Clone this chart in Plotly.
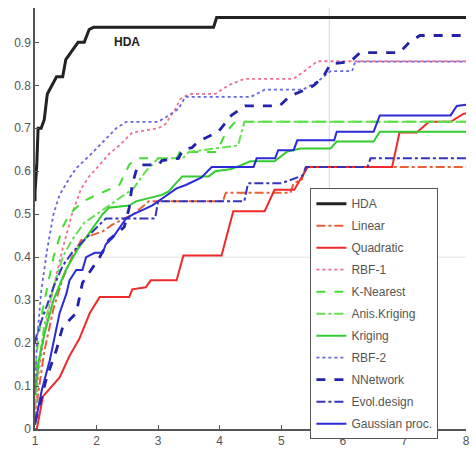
import plotly.graph_objects as go

# ---- data ----
names = ["HDA", "Linear", "Quadratic", "RBF-1", "K-Nearest", "Anis.Kriging",
         "Kriging", "RBF-2", "NNetwork", "Evol.design", "Gaussian proc."]

hda_x = [1.0, 1.0, 1.03, 1.05, 1.1, 1.15, 1.2, 1.27, 1.35, 1.45, 1.5, 1.6, 1.7, 1.8, 1.88, 1.95, 3.9, 3.95, 8]
hda_y = [0.53, 0.55, 0.62, 0.70, 0.70, 0.72, 0.78, 0.80, 0.82, 0.82, 0.86, 0.88, 0.90, 0.90, 0.93, 0.935, 0.935, 0.958, 0.958]

lin_x = [1, 1.05, 1.15, 1.3, 1.45, 1.6, 1.75, 1.9, 2.1, 2.25, 2.45, 2.6, 2.85, 4.05, 4.1, 5.15, 5.2, 5.33, 5.4, 8]
lin_y = [0.02, 0.08, 0.18, 0.28, 0.35, 0.40, 0.44, 0.45, 0.46, 0.475, 0.49, 0.50, 0.53, 0.53, 0.55, 0.55, 0.572, 0.58, 0.61, 0.61]

quad_x = [1.0, 1.03, 1.13, 1.4, 1.56, 1.72, 1.89, 2.05, 2.53, 2.58, 2.8, 2.88, 3.3, 3.41, 4.03, 4.22, 4.73, 4.89, 5.21, 5.43, 6.8, 6.92, 7.2, 7.4, 7.75, 7.95, 8]
quad_y = [0.0, 0.0, 0.076, 0.12, 0.17, 0.21, 0.27, 0.307, 0.307, 0.325, 0.33, 0.346, 0.346, 0.404, 0.404, 0.507, 0.507, 0.557, 0.557, 0.61, 0.61, 0.69, 0.69, 0.715, 0.715, 0.733, 0.735]

rbf1_x = [1, 1.05, 1.15, 1.3, 1.45, 1.6, 1.75, 1.89, 2.05, 2.2, 2.37, 2.58, 3.0, 3.12, 3.28, 3.36, 3.5, 3.93, 4.14, 4.4, 5.2, 5.43, 5.59, 8]
rbf1_y = [0.03, 0.12, 0.22, 0.33, 0.42, 0.50, 0.56, 0.59, 0.615, 0.64, 0.66, 0.69, 0.70, 0.71, 0.745, 0.768, 0.78, 0.78, 0.80, 0.815, 0.815, 0.838, 0.856, 0.856]

knn_x = [1, 1.03, 1.1, 1.2, 1.3, 1.45, 1.56, 1.78, 2.0, 2.37, 2.53, 2.64, 3.3, 3.35, 3.95, 4.1, 4.25, 8]
knn_y = [0.10, 0.18, 0.26, 0.33, 0.40, 0.47, 0.50, 0.53, 0.545, 0.568, 0.615, 0.63, 0.63, 0.645, 0.645, 0.69, 0.715, 0.715]

anis_x = [1, 1.05, 1.15, 1.3, 1.45, 1.6, 1.8, 2.0, 2.2, 2.4, 2.6, 2.8, 3.0, 3.4, 3.5, 4.3, 4.4, 8]
anis_y = [0.05, 0.14, 0.24, 0.33, 0.40, 0.44, 0.48, 0.50, 0.52, 0.54, 0.56, 0.60, 0.63, 0.63, 0.645, 0.66, 0.715, 0.715]

krig_x = [1, 1.05, 1.15, 1.3, 1.5, 1.7, 1.9, 2.1, 2.2, 2.53, 2.64, 3.06, 3.17, 3.39, 3.82, 3.93, 4.19, 4.5, 4.89, 5.1, 5.31, 5.8, 5.9, 6.5, 6.6, 8]
krig_y = [0.08, 0.15, 0.22, 0.30, 0.37, 0.42, 0.46, 0.50, 0.515, 0.52, 0.53, 0.545, 0.553, 0.588, 0.588, 0.60, 0.605, 0.623, 0.623, 0.646, 0.653, 0.653, 0.669, 0.669, 0.692, 0.692]

rbf2_x = [1, 1.03, 1.1, 1.2, 1.3, 1.4, 1.56, 1.67, 1.89, 2.05, 2.2, 2.32, 2.48, 3.0, 3.17, 3.33, 3.44, 4.5, 4.6, 4.73, 5.35, 5.6, 5.8, 6.15, 6.2, 8]
rbf2_y = [0.08, 0.20, 0.32, 0.42, 0.50, 0.545, 0.584, 0.607, 0.637, 0.66, 0.683, 0.70, 0.715, 0.715, 0.73, 0.745, 0.773, 0.773, 0.78, 0.79, 0.79, 0.81, 0.833, 0.833, 0.855, 0.855]

nn_x = [1, 1.08, 1.19, 1.35, 1.45, 1.67, 1.77, 2.05, 2.2, 2.45, 2.53, 2.58, 2.64, 2.69, 3.01, 3.06, 3.33, 3.4, 3.55, 3.65, 3.98, 4.19, 4.41, 4.97, 5.15, 5.4, 5.53, 5.69, 5.8, 6.12, 6.28, 6.92, 7.08, 7.25, 8]
nn_y = [0.015, 0.06, 0.12, 0.185, 0.238, 0.27, 0.34, 0.40, 0.44, 0.47, 0.515, 0.57, 0.60, 0.615, 0.615, 0.625, 0.63, 0.65, 0.655, 0.669, 0.692, 0.73, 0.752, 0.752, 0.776, 0.79, 0.80, 0.822, 0.85, 0.855, 0.876, 0.876, 0.90, 0.916, 0.916]

evol_x = [1, 1.03, 1.1, 1.2, 1.3, 1.45, 1.6, 1.8, 2.0, 2.15, 2.95, 3.0, 4.4, 4.46, 5.0, 5.35, 5.4, 6.4, 6.45, 8]
evol_y = [0.20, 0.22, 0.25, 0.29, 0.33, 0.38, 0.41, 0.44, 0.47, 0.49, 0.49, 0.53, 0.53, 0.572, 0.572, 0.59, 0.61, 0.61, 0.63, 0.63]

gp_x = [1, 1.03, 1.11, 1.24, 1.32, 1.4, 1.51, 1.56, 1.67, 1.77, 1.83, 1.97, 2.1, 2.15, 2.26, 2.48, 2.6, 2.9, 3.1, 3.3, 3.45, 3.7, 3.87, 4.55, 4.6, 4.9, 4.95, 5.2, 5.26, 5.86, 5.9, 6.5, 6.6, 7.75, 7.85, 8]
gp_y = [0.01, 0.03, 0.09, 0.16, 0.215, 0.27, 0.315, 0.346, 0.37, 0.37, 0.40, 0.41, 0.41, 0.43, 0.445, 0.49, 0.50, 0.52, 0.54, 0.56, 0.568, 0.585, 0.61, 0.61, 0.63, 0.63, 0.649, 0.649, 0.672, 0.672, 0.692, 0.692, 0.73, 0.73, 0.752, 0.755]

xs = [hda_x, lin_x, quad_x, rbf1_x, knn_x, anis_x, krig_x, rbf2_x, nn_x, evol_x, gp_x]
ys = [hda_y, lin_y, quad_y, rbf1_y, knn_y, anis_y, krig_y, rbf2_y, nn_y, evol_y, gp_y]

x_ticks = [1, 2, 3, 4, 5, 6, 7, 8]
y_ticks = [0, 0.1, 0.2, 0.3, 0.4, 0.5, 0.6, 0.7, 0.8, 0.9]
y_tick_text = ["0", "0.1", "0.2", "0.3", "0.4", "0.5", "0.6", "0.7", "0.8", "0.9"]

# ---- styles ----
colors = ["#222222", "#e8603a", "#ee2a2a", "#f07090", "#44dd33", "#66e050",
          "#33cc33", "#6666dd", "#2222aa", "#3333bb", "#2a2ad8"]
dashes = ["solid", "dashdot", "solid", "dot", "dash", "dashdot",
          "solid", "dot", "dash", "dashdot", "solid"]
widths = [3, 2, 2, 1.8, 2, 2, 2, 1.8, 2.8, 2, 2]

fig = go.Figure()
for i, nm in enumerate(names):
    fig.add_trace(go.Scatter(
        x=xs[i], y=ys[i], mode="lines", name=nm, legendgroup=nm,
        line=dict(color=colors[i], dash=dashes[i], width=widths[i]),
    ))

fig.add_annotation(x=2.5, y=0.9, text="<b>HDA</b>", showarrow=False,
                   font=dict(family="Arial, Liberation Sans", size=12, color="#222"))

# faint crosshair lines in the original
fig.add_shape(type="line", x0=5.78, x1=5.78, y0=0, y1=0.98, xref="x", yref="y",
              line=dict(color="#d8d8d8", width=1), layer="below")
fig.add_shape(type="line", x0=1, x1=8, y0=0.4, y1=0.4, xref="x", yref="y",
              line=dict(color="#e2e2e2", width=1), layer="below")

fig.update_layout(
    width=476, height=454,
    margin=dict(l=35, r=6, t=8, b=21),
    paper_bgcolor="white", plot_bgcolor="white",
    font=dict(family="Arial, Liberation Sans", size=12, color="#555"),
    showlegend=True,
    legend=dict(x=0.639, y=0.572, xanchor="left", yanchor="top",
                bgcolor="white", bordercolor="#555", borderwidth=1,
                font=dict(size=12, color="#555"), tracegroupgap=3,
                itemwidth=30),
    xaxis=dict(range=[1, 8], tickvals=x_ticks, showgrid=False, zeroline=False,
               showline=True, linecolor="#555", linewidth=1.5,
               ticks="inside", ticklen=4, tickcolor="#555",
               ticklabeloverflow="allow"),
    yaxis=dict(range=[0, 0.98], tickvals=y_ticks, ticktext=y_tick_text,
               showgrid=False, zeroline=False,
               showline=True, linecolor="#555", linewidth=1.5,
               ticks="inside", ticklen=4, tickcolor="#555"),
)

fig.write_html("out.html", config={"displayModeBar": False},
               post_script="document.body.style.margin='0';document.body.style.overflow='hidden';")
